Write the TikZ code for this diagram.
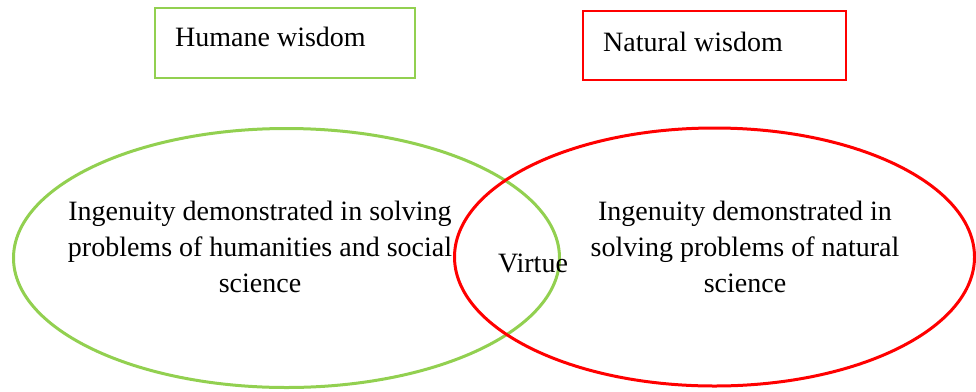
\documentclass[tikz,border=0pt]{standalone}
\usepackage{fontspec}
\setmainfont{Liberation Serif}
\usetikzlibrary{shapes.geometric}
\definecolor{lgreen}{RGB}{146,208,80}
\definecolor{lred}{RGB}{255,0,0}
\tikzset{
  labelbox/.style={draw, line width=2pt, minimum width=#1, inner sep=0pt, anchor=center},
  setellipse/.style={ellipse, draw, line width=3pt, inner sep=0pt},
  txt/.style={font=\fontsize{28}{36}\selectfont, inner sep=0pt, align=center},
}
\begin{document}
\begin{tikzpicture}[x=1pt,y=-1pt]
\useasboundingbox (0,0) rectangle (976,391);
\node[labelbox=260pt, draw=lgreen, minimum height=70pt] (hbox) at (285,43) {};
\node[labelbox=263pt, draw=lred, minimum height=69pt] (nbox) at (714.5,45.5) {};
\node[txt, anchor=base west] (htxt) at (175,46) {Humane wisdom};
\node[txt, anchor=base west] (ntxt) at (603,51) {Natural wisdom};
\node[setellipse, draw=lgreen, minimum width=546pt, minimum height=259pt] (gell) at (286.5,258) {};
\node[setellipse, draw=lred, minimum width=520pt, minimum height=258pt] (rell) at (714.5,257) {};
\node[txt] (gtxt) at (260,247) {Ingenuity demonstrated in solving\\problems of humanities and social\\science};
\node[txt] (rtxt) at (745,247) {Ingenuity demonstrated in\\solving problems of natural\\science};
\node[txt, anchor=base] (virtue) at (533,272) {Virtue};
\end{tikzpicture}
\end{document}
